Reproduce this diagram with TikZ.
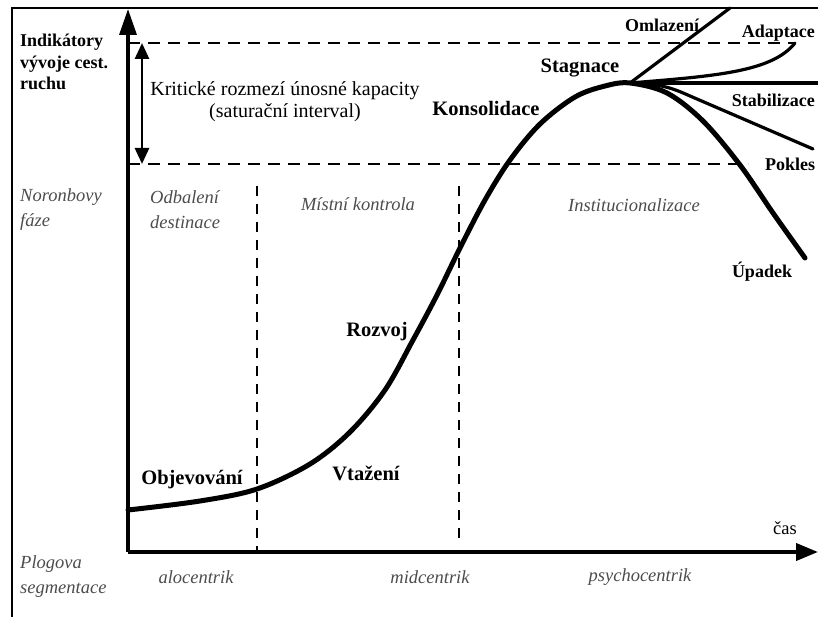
\documentclass[tikz,border=0pt]{standalone}
\usepackage{fontspec}
\setmainfont{Liberation Serif}
\usetikzlibrary{arrows.meta,positioning,calc}

\begin{document}
\begin{tikzpicture}[x=1pt,y=-1pt,
    stage/.style={font=\fontsize{20.5}{22}\selectfont\bfseries,inner sep=0pt},
    branchlbl/.style={font=\fontsize{18}{20}\selectfont\bfseries,inner sep=0pt},
    phase/.style={font=\fontsize{18.5}{25}\selectfont\itshape,text=black!70,inner sep=0pt,align=left},
    limit/.style={line width=2.8pt,dash pattern=on 12pt off 8pt},
    split/.style={line width=2.8pt,dash pattern=on 10pt off 8pt},
    branch/.style={line width=3.2pt,line cap=round}]
        \useasboundingbox (0,0) rectangle (818,617);
        % frame
        \draw[line width=2pt] (12,617) -- (12,8) -- (818,8);
        % axes
        \coordinate (o) at (128,552);
        \coordinate (ytop) at (128,9);
        \coordinate (xend) at (818,552);
        \draw[line width=3.4pt,-{Triangle[length=26pt,width=17pt]}] (o) -- (ytop);
        \draw[line width=3.8pt,-{Triangle[length=22pt,width=17pt]}] (o) -- (xend);
        % saturation band
        \coordinate (hi) at (128,43);
        \coordinate (lo) at (128,164);
        \draw[limit] (hi) -- (795,43);
        \draw[limit] (lo) -- (748,164);
        \draw[line width=2.8pt,{Triangle[length=16pt,width=14pt]}-{Triangle[length=16pt,width=14pt]}]
        ([xshift=14pt]hi) -- ([xshift=14pt]lo);
        % phase borders
        \draw[split] (257,186) -- (257,552);
        \draw[split] (459,186) -- (459,545);
        % life cycle curve
        \coordinate (peak) at (630,83);
        \draw[line width=5pt,line cap=round] plot[smooth,tension=0.55] coordinates
        {(128,510) (200,501) (257,489) (310,464) (350,432) (385,390) (413,340) (437,295)
         (460,248) (485,200) (510,160) (540,124) (575,97) (605,86) (630,83) (667,93)
         (703,121) (740,165) (773,213) (805,258)};
        % branches after stagnation
        \draw[branch] (peak) -- (730,8);
        \draw[branch] (peak) .. controls (715,76) and (772,72) .. (795,43);
        \draw[line width=3.2pt] (peak) -- (818,83);
        \draw[branch] (peak) .. controls (662,84) and (672,88) .. (690,96) -- (813,149);
        % texts
        \node[font=\fontsize{18}{21.5}\selectfont\bfseries,inner sep=0pt,align=left,anchor=west] (ind) at (20,62)
        {Indikátory\\vývoje cest.\\ruchu};
        \node[font=\fontsize{20}{22}\selectfont,align=center,inner sep=0pt] (krit) at (285,102)
        {Kritické rozmezí únosné kapacity\\(saturační interval)};
        \node[phase,anchor=west] (noron) at (20,210) {Noronbovy\\fáze};
        \node[phase,anchor=west] (odhal) at (150,210) {Odbalení\\destinace};
        \node[phase] (mistni) at (358,204) {Místní kontrola};
        \node[phase] (inst) at (634,205) {Institucionalizace};
        \node[phase,anchor=west] (plog) at (20,577) {Plogova\\segmentace};
        \node[phase] (alo) at (196,577) {alocentrik};
        \node[phase] (mid) at (430,577) {midcentrik};
        \node[phase] (psy) at (640,577) {psychocentrik};
        \node[font=\fontsize{18.5}{22}\selectfont,inner sep=0pt] (cas) at (785,528) {čas};
        \node[stage] (objev) at (192,480) {Objevování};
        \node[stage] (vtaz) at (366,473) {Vtažení};
        \node[stage] (rozv) at (377,332) {Rozvoj};
        \node[stage] (kons) at (486,108) {Konsolidace};
        \node[stage] (stag) at (580,68) {Stagnace};
        \node[branchlbl] (omla) at (662,25) {Omlazení};
        \node[branchlbl,anchor=east] (adap) at (815,33) {Adaptace};
        \node[branchlbl,anchor=east] (stab) at (815,100) {Stabilizace};
        \node[branchlbl,anchor=west] (pokl) at (765,164) {Pokles};
        \node[branchlbl] (upad) at (762,272) {Úpadek};
      \end{tikzpicture}
\end{document}
